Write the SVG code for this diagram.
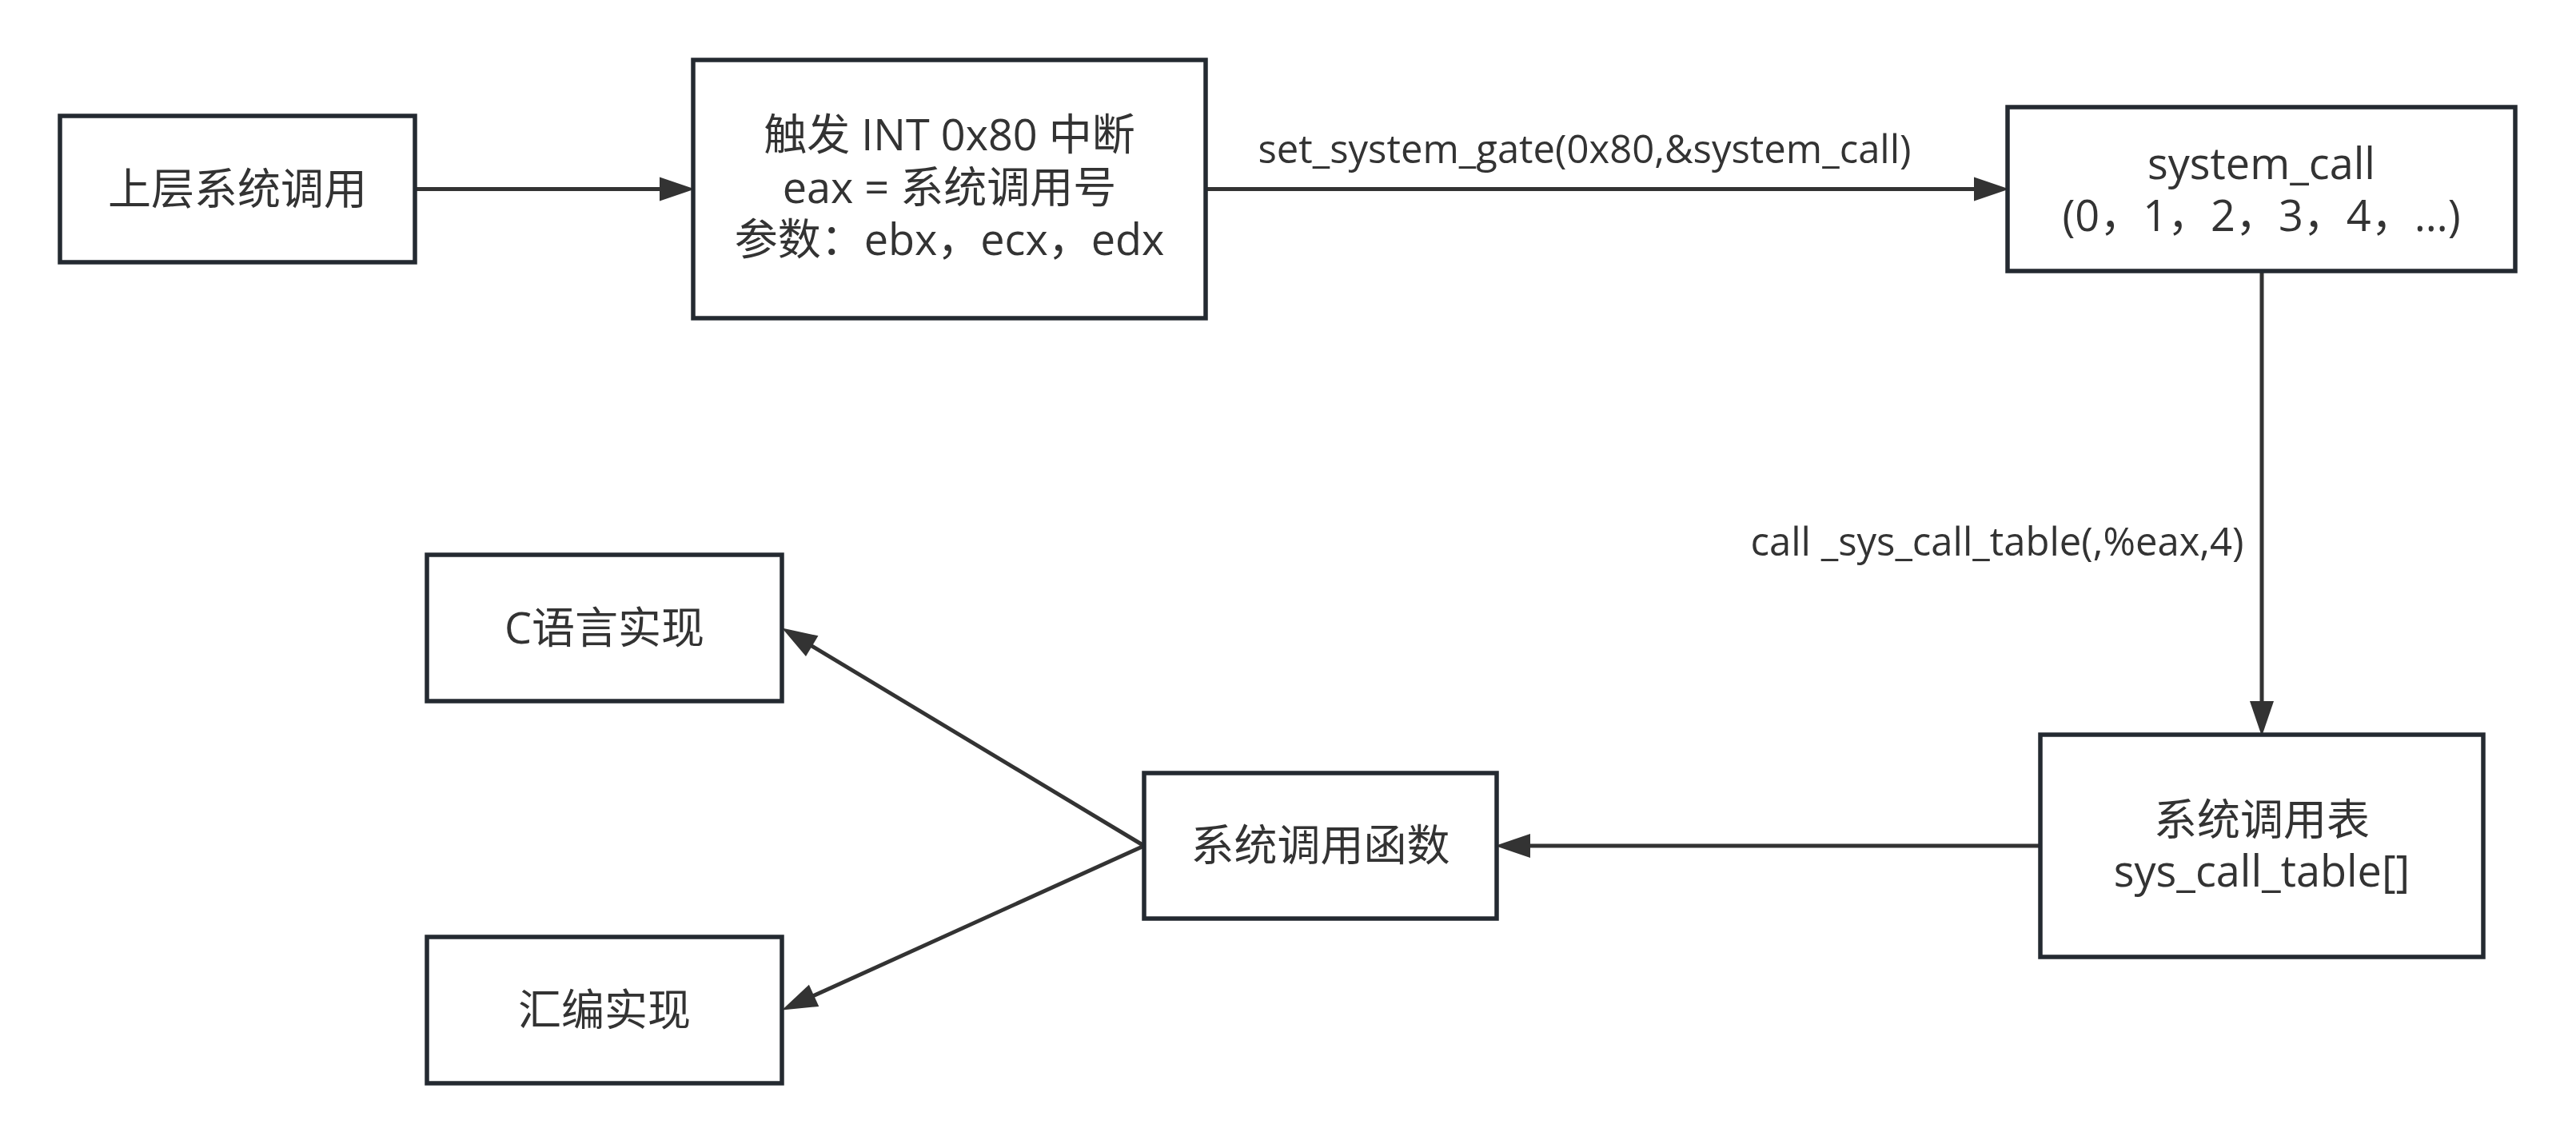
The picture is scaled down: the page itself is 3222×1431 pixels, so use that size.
<svg xmlns="http://www.w3.org/2000/svg" width="3222" height="1431" viewBox="0 0 3222 1431">
<defs>
<style>
.box{fill:#ffffff;stroke:#242a31;stroke-width:5.5}
.t{font-family:"Open Sans","Noto Sans CJK SC",sans-serif;font-size:54px;fill:#333333;text-anchor:middle}
.lbl{font-family:"Open Sans","Noto Sans CJK SC",sans-serif;font-size:49px;fill:#333333;text-anchor:middle}
.edge{fill:none;stroke:#333333;stroke-width:5}
</style>
<marker id="arr" markerUnits="userSpaceOnUse" markerWidth="46" markerHeight="32" refX="30" refY="15" orient="auto" overflow="visible">
<path d="M0,0 L44,15 L0,30 Z" fill="#333333"/>
</marker>
</defs>
<rect width="3222" height="1431" fill="#ffffff"/>
<g id="connectors">
<line class="edge" x1="519" y1="236.5" x2="855" y2="236.5" marker-end="url(#arr)"/>
<line class="edge" x1="1508" y1="236.5" x2="2499" y2="236.5" marker-end="url(#arr)"/>
<line class="edge" x1="2829" y1="339" x2="2829" y2="907" marker-end="url(#arr)"/>
<line class="edge" x1="2552" y1="1058" x2="1884" y2="1058" marker-end="url(#arr)"/>
<line class="edge" x1="1431" y1="1058" x2="990" y2="792.7" marker-end="url(#arr)"/>
<line class="edge" x1="1431" y1="1058" x2="990.75" y2="1257.7" marker-end="url(#arr)"/>
<text class="lbl" x="1982" y="204">set_system_gate(0x80,&amp;system_call)</text>
<text class="lbl" x="2498" y="695">call _sys_call_table(,%eax,4)</text>
</g>
<g id="node-upper">
<rect class="box" x="75" y="145" width="444" height="183"/>
<text class="t" x="297" y="255.5">上层系统调用</text>
</g>
<g id="node-int">
<rect class="box" x="867" y="75" width="641" height="323"/>
<text class="t" x="1187.5" y="188">触发 INT 0x80 中断</text>
<text class="t" x="1187.5" y="253.5">eax = 系统调用号</text>
<text class="t" x="1187.5" y="319">参数：ebx，ecx，edx</text>
</g>
<g id="node-system-call">
<rect class="box" x="2511" y="134" width="635" height="205"/>
<text class="t" x="2828.5" y="224">system_call</text>
<text class="t" x="2828.5" y="289">(0，1，2，3，4，…)</text>
</g>
<g id="node-table">
<rect class="box" x="2552" y="919" width="554" height="278"/>
<text class="t" x="2829" y="1045">系统调用表</text>
<text class="t" x="2829" y="1109">sys_call_table[]</text>
</g>
<g id="node-func">
<rect class="box" x="1431" y="967" width="441" height="182"/>
<text class="t" x="1651.5" y="1077">系统调用函数</text>
</g>
<g id="node-c">
<rect class="box" x="534" y="694" width="444" height="183"/>
<text class="t" x="756" y="804.5">C语言实现</text>
</g>
<g id="node-asm">
<rect class="box" x="534" y="1172" width="444" height="183"/>
<text class="t" x="756" y="1282.5">汇编实现</text>
</g>
</svg>
